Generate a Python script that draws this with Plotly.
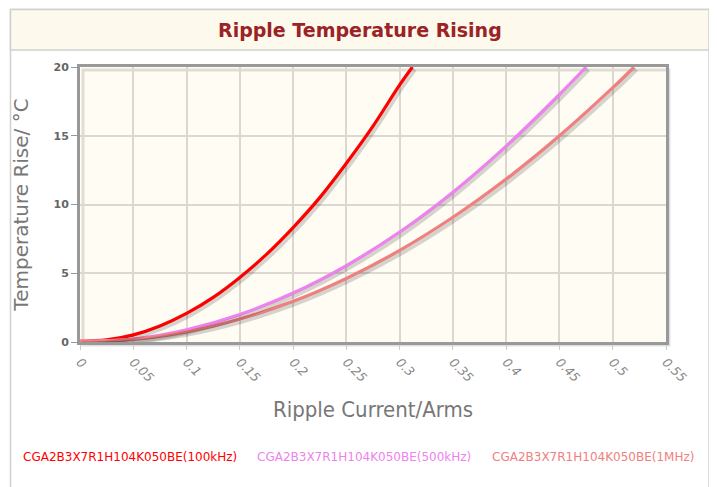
import plotly.graph_objects as go

# ---- data ----
x_100k = [0, 0.025, 0.05, 0.075, 0.1, 0.125, 0.15, 0.175, 0.2, 0.225, 0.25, 0.275, 0.3, 0.312]
y_100k = [0.05, 0.15, 0.52, 1.17, 2.08, 3.25, 4.7, 6.37, 8.32, 10.5, 13.0, 15.7, 18.7, 20.0]

x_500k = [0, 0.05, 0.1, 0.15, 0.2, 0.25, 0.3, 0.35, 0.4, 0.45, 0.475]
y_500k = [0.05, 0.22, 0.89, 2.0, 3.56, 5.56, 8.0, 10.9, 14.25, 18.0, 20.0]

x_1m = [0, 0.05, 0.1, 0.15, 0.2, 0.25, 0.3, 0.35, 0.4, 0.45, 0.5, 0.52]
y_1m = [0.05, 0.19, 0.74, 1.67, 2.96, 4.63, 6.66, 9.07, 11.85, 15.0, 18.5, 20.0]

series_names = ["CGA2B3X7R1H104K050BE(100kHz)", "CGA2B3X7R1H104K050BE(500kHz)",
                "CGA2B3X7R1H104K050BE(1MHz)"]
series_colors = ["#ff0000", "#ee82ee", "#f08080"]

x_ticks = [0, 0.05, 0.1, 0.15, 0.2, 0.25, 0.3, 0.35, 0.4, 0.45, 0.5, 0.55]
x_tick_text = ["0", "0.05", "0.1", "0.15", "0.2", "0.25", "0.3", "0.35", "0.4", "0.45", "0.5", "0.55"]
y_ticks = [0, 5, 10, 15, 20]

# page is rendered with an 8px body margin; work in page coordinates
OFF = 8
W, H = 717 - OFF, 487 - OFF
L = 80 - OFF
T = 67 - OFF
R = W - (666 - OFF)
B = H - (342 - OFF)
pw, ph = W - L - R, H - T - B

fig = go.Figure()

datasets = [(x_100k, y_100k), (x_500k, y_500k), (x_1m, y_1m)]

# shadows on offset axes (shifted by a few pixels down-right)
dx = 0.55 * 2.5 / pw
dy = 20 * 2.5 / ph
for (xs, ys) in datasets:
    fig.add_trace(go.Scatter(x=xs, y=ys, mode="lines", xaxis="x2", yaxis="y2",
                             line=dict(color="rgba(0,0,0,0.16)", width=4, shape="spline"),
                             hoverinfo="skip", showlegend=False))

for (xs, ys), name, col in zip(datasets, series_names, series_colors):
    fig.add_trace(go.Scatter(x=xs, y=ys, mode="lines", name=name,
                             line=dict(color=col, width=3.2, shape="spline"),
                             showlegend=False))

fig.update_layout(
    width=W, height=H,
    margin=dict(l=L, r=R, t=T, b=B),
    paper_bgcolor="white",
    plot_bgcolor="#fffcf4",
    font=dict(family="DejaVu Sans"),
    xaxis=dict(range=[0, 0.55], tickvals=x_ticks, ticktext=x_tick_text,
               tickangle=45, tickfont=dict(family="DejaVu Sans", size=12.5, color="#888888", style="italic"),
               showgrid=True, gridcolor="#dcd8d0", gridwidth=1.5,
               ticks="outside", ticklen=5, tickcolor="#cccccc",
               showline=True, linecolor="#999999", linewidth=3, mirror=True,
               zeroline=False, fixedrange=True,
               title=dict(text="Ripple Current/Arms", standoff=18,
                          font=dict(family="DejaVu Sans Condensed", size=22, color="#777777"))),
    yaxis=dict(range=[0, 20], tickvals=y_ticks,
               tickfont=dict(family="DejaVu Sans", size=11, color="#666666", weight="bold"),
               showgrid=True, gridcolor="#dcd8d0", gridwidth=1.5,
               ticks="outside", ticklen=6, tickcolor="#999999",
               showline=True, linecolor="#999999", linewidth=3, mirror=True,
               zeroline=False, fixedrange=True,
               title=dict(text="Temperature Rise/ °C", standoff=20,
                          font=dict(family="DejaVu Sans", size=20, color="#777777"))),
    xaxis2=dict(overlaying="x", range=[0 - dx, 0.55 - dx], visible=False, fixedrange=True),
    yaxis2=dict(overlaying="y", range=[0 + dy, 20 + dy], visible=False, fixedrange=True),
    showlegend=False,
)

def px_x(p):
    return (p - OFF - L) / pw

def px_y(p):
    return (H - B - (p - OFF)) / ph

shapes = []
# outer container border
shapes.append(dict(type="rect", xref="paper", yref="paper",
                   x0=px_x(10.5), x1=px_x(709), y0=px_y(495), y1=px_y(9.5),
                   line=dict(color="#d0d0d0", width=1.5), fillcolor="rgba(0,0,0,0)", layer="below"))
# title band
shapes.append(dict(type="rect", xref="paper", yref="paper",
                   x0=px_x(10.5), x1=px_x(709), y0=px_y(50), y1=px_y(9.5),
                   line=dict(color="#d0d0d0", width=1.5), fillcolor="#fdf9ec", layer="below"))
# frame shadow
shapes.append(dict(type="rect", xref="paper", yref="paper",
                   x0=px_x(83), x1=px_x(669), y0=px_y(345), y1=px_y(70),
                   line=dict(color="rgba(0,0,0,0.12)", width=3), fillcolor="rgba(0,0,0,0)", layer="below"))
fig.update_layout(shapes=shapes)

annotations = [dict(text="<b>Ripple Temperature Rising</b>", xref="paper", yref="paper",
                    x=px_x(360), y=px_y(30), showarrow=False,
                    font=dict(family="DejaVu Sans", size=19, color="#9b2226"),
                    xanchor="center", yanchor="middle")]
legend_x = [21, 255, 490]
for lx, name, col in zip(legend_x, series_names, series_colors):
    annotations.append(dict(text=name, xref="paper", yref="paper",
                            x=px_x(lx), y=px_y(457), showarrow=False,
                            xanchor="left", yanchor="middle",
                            font=dict(family="DejaVu Sans", size=12, color=col)))
fig.update_layout(annotations=annotations)

fig.write_html("out.html")
